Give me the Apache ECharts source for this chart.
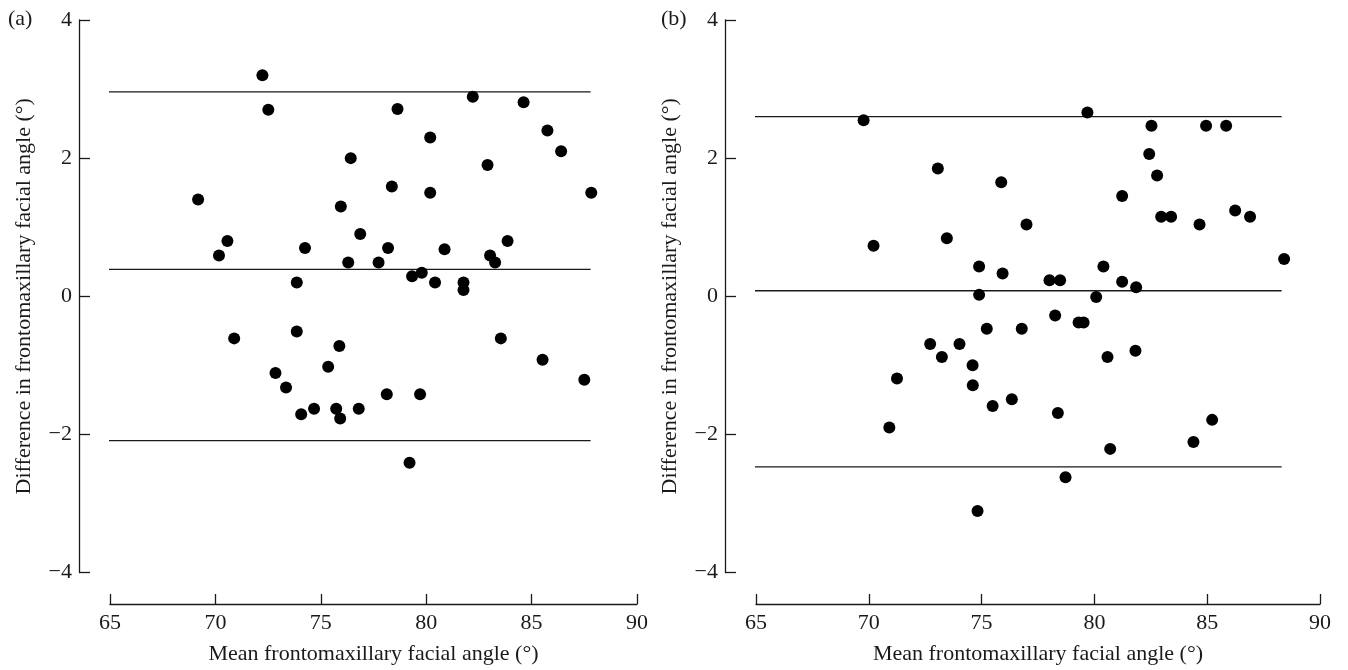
<!DOCTYPE html>
<html><head><meta charset="utf-8">
<script src="https://cdn.jsdelivr.net/npm/echarts@6/dist/echarts.min.js"></script>
<style>html,body{margin:0;padding:0;background:#fff}#c{width:1348px;height:670px}</style>
</head><body><div id="c"></div>
<script>
// Panel (a) data: [mean angle, difference]
const pointsA = [
[72.23,3.20],[72.51,2.70],[69.18,1.40],[70.57,0.80],[70.17,0.59],[74.25,0.70],[73.86,0.20],[75.95,1.30],
[82.21,2.89],[84.62,2.81],[78.64,2.71],[80.19,2.30],[76.42,2.00],[82.91,1.90],[85.75,2.40],[86.40,2.10],
[78.37,1.59],[80.19,1.50],[87.83,1.50],[76.87,0.90],[83.86,0.80],[78.19,0.70],[80.87,0.68],[76.30,0.49],
[77.74,0.49],[83.03,0.59],[83.27,0.49],[79.33,0.29],[79.79,0.34],[80.42,0.20],[81.77,0.20],[81.77,0.09],
[70.89,-0.61],[73.86,-0.51],[75.88,-0.72],[72.85,-1.11],[73.35,-1.32],[75.35,-1.02],[74.07,-1.71],[74.68,-1.63],
[75.73,-1.63],[75.92,-1.77],[76.80,-1.63],[78.13,-1.42],[79.71,-1.42],[79.21,-2.41],[83.54,-0.61],[85.52,-0.92],
[87.50,-1.21]
];
// Panel (b) data
const pointsB = [
[69.77,2.55],[70.21,0.73],[73.06,1.85],[75.87,1.65],[73.46,0.84],[74.89,0.43],[75.93,0.33],[74.89,0.02],
[79.69,2.66],[82.53,2.47],[84.95,2.47],[85.84,2.47],[82.43,2.06],[82.78,1.75],[81.23,1.45],[82.96,1.15],
[83.40,1.15],[84.66,1.04],[86.24,1.24],[86.90,1.15],[76.99,1.04],[88.41,0.54],[80.40,0.43],[78.01,0.23],
[78.48,0.23],[81.23,0.21],[81.85,0.13],[80.08,-0.01],[78.26,-0.28],[79.30,-0.38],[79.52,-0.38],
[75.23,-0.47],[76.78,-0.47],[72.72,-0.69],[74.02,-0.69],[73.24,-0.88],[74.60,-1.00],[71.25,-1.19],[74.61,-1.29],
[76.34,-1.49],[75.49,-1.59],[70.91,-1.90],[74.82,-3.11],
[80.58,-0.88],[81.82,-0.79],[78.38,-1.69],[85.22,-1.79],[84.39,-2.11],[80.70,-2.21],[78.72,-2.62]
];
// Limits of agreement and mean difference lines
const limitsA = [2.96, 0.39, -2.09];
const limitsB = [2.60, 0.08, -2.47];
const spanA = [64.9, 87.8];
const spanB = [64.9, 88.3];
const xTicks = [65, 70, 75, 80, 85, 90];
const yTicks = [-4, -2, 0, 2, 4];
const panelLabels = ['(a)', '(b)'];
const xTitle = 'Mean frontomaxillary facial angle (°)';
const yTitle = 'Difference in frontomaxillary facial angle (°)';

const FONT = 'Liberation Serif';
const FS = 22;
const INK = '#1a1a1a';
const chart = echarts.init(document.getElementById('c'));

function xAxisFor(idx){
  return {
    gridIndex: idx, type: 'value', min: xTicks[0], max: xTicks[xTicks.length-1], interval: 5,
    position: 'bottom', offset: 31.5,
    axisLine: {show: true, onZero: false, lineStyle: {color: INK, width: 1.3}},
    axisTick: {show: true, inside: true, length: 10, lineStyle: {color: INK, width: 1.3}},
    axisLabel: {color: INK, fontFamily: FONT, fontSize: FS, margin: 8},
    splitLine: {show: false},
    name: xTitle, nameLocation: 'middle', nameGap: 39,
    nameTextStyle: {color: INK, fontFamily: FONT, fontSize: FS}
  };
}
function yAxisFor(idx, off){
  return {
    gridIndex: idx, type: 'value', min: yTicks[0], max: yTicks[yTicks.length-1], interval: 2,
    position: 'left', offset: off,
    axisLine: {show: true, onZero: false, lineStyle: {color: INK, width: 1.3}},
    axisTick: {show: true, inside: true, length: 11, lineStyle: {color: INK, width: 1.3}},
    axisLabel: {color: INK, fontFamily: FONT, fontSize: FS, margin: 7,
      formatter: v => (v < 0 ? '\u2212' + Math.abs(v) : String(v))},
    splitLine: {show: false},
    name: yTitle, nameLocation: 'middle', nameGap: 44,
    nameTextStyle: {color: INK, fontFamily: FONT, fontSize: FS}
  };
}
function limitSeries(limits, span, idx){
  return limits.map(v => ({
    type: 'line', xAxisIndex: idx, yAxisIndex: idx, silent: true, symbol: 'none',
    data: [[span[0], v], [span[1], v]],
    lineStyle: {color: INK, width: 1.3}, z: 1
  }));
}
function scatterSeries(pts, idx){
  return {type: 'scatter', xAxisIndex: idx, yAxisIndex: idx, data: pts, symbolSize: 12,
    itemStyle: {color: '#000', opacity: 1}, z: 3};
}

chart.setOption({
  animation: false,
  backgroundColor: '#fff',
  textStyle: {fontFamily: FONT},
  grid: [
    {left: 110, top: 20, width: 527, height: 553},
    {left: 756, top: 20, width: 564, height: 553}
  ],
  xAxis: [xAxisFor(0), xAxisFor(1)],
  yAxis: [yAxisFor(0, 31), yAxisFor(1, 31)],
  graphic: [
    {type: 'text', left: 8, top: 8, style: {text: panelLabels[0], font: FS + 'px "Liberation Serif"', fill: INK}},
    {type: 'text', left: 661, top: 8, style: {text: panelLabels[1], font: FS + 'px "Liberation Serif"', fill: INK}}
  ],
  series: [
    ...limitSeries(limitsA, spanA, 0),
    ...limitSeries(limitsB, spanB, 1),
    scatterSeries(pointsA, 0),
    scatterSeries(pointsB, 1)
  ]
});
</script>
</body></html>
